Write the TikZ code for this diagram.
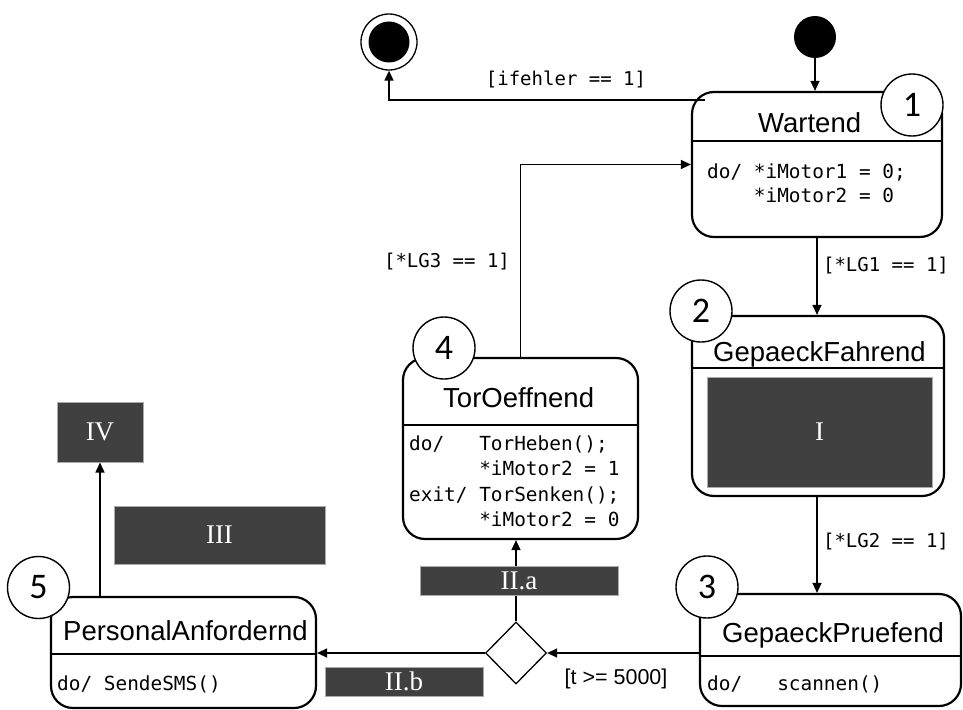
\documentclass[tikz,border=0pt]{standalone}
\usepackage{fontspec}
\setmainfont{Liberation Sans}
\newfontfamily\monof{DejaVu Sans Mono}
\newfontfamily\numf{Carlito}
\newfontfamily\serf{Liberation Serif}
\usetikzlibrary{arrows.meta,shapes.geometric}
\definecolor{boxgray}{RGB}{64,64,64}
\definecolor{edgegray}{RGB}{170,170,170}
\tikzset{
  statebox/.style={draw, line width=2.2pt, rounded corners=22pt, inner sep=0pt},
  sepline/.style={line width=1.8pt},
  titletext/.style={font=\fontsize{27.5}{30}\selectfont, inner sep=0pt},
  bodytext/.style={font=\monof\fontsize{19.4}{25}\selectfont, inner sep=0pt},
  guard/.style={font=\monof\fontsize{19}{22}\selectfont, inner sep=0pt},
  numcircle/.style={circle, draw, line width=1.4pt, fill=white, minimum size=62pt, inner sep=0pt, font=\numf\fontsize{36}{36}\selectfont},
  darkbox/.style={fill=boxgray, draw=edgegray, line width=1pt, text=white, inner sep=0pt, font=\serf\fontsize{27}{30}\selectfont},
  conn/.style={line width=1.4pt, -{Triangle[length=10pt,width=9pt]}},
}
\begin{document}
\begin{tikzpicture}[x=1pt,y=-1pt]
\useasboundingbox (0,0) rectangle (963,709);

% initial and final states
\node[circle, fill=black, minimum size=42pt, inner sep=0pt] (init) at (815,37) {};
\node[circle, draw, line width=1.3pt, minimum size=56pt, inner sep=0pt] (fin) at (389,42) {};
\node[circle, fill=black, minimum size=41pt, inner sep=0pt] (fincore) at (fin) {};

% state boxes
\node[statebox, minimum width=250pt, minimum height=145pt] (w) at (817,164.5) {};
\node[statebox, minimum width=252pt, minimum height=180pt] (gf) at (818,406) {};
\node[statebox, minimum width=235pt, minimum height=181pt] (t) at (520.5,448.5) {};
\node[statebox, minimum width=261pt, minimum height=112pt] (gp) at (830.5,650) {};
\node[statebox, minimum width=265pt, minimum height=111pt] (p) at (183.5,652.5) {};

% separators
\draw[sepline] (w.west |- 0,141) -- (w.east |- 0,141);
\draw[sepline] (gf.west |- 0,368) -- (gf.east |- 0,368);
\draw[sepline] (t.west |- 0,425) -- (t.east |- 0,425);
\draw[sepline] (gp.west |- 0,656) -- (gp.east |- 0,656);
\draw[sepline] (p.west |- 0,654) -- (p.east |- 0,654);

% titles
\node[titletext, anchor=base west] (wt) at (758,132) {Wartend};
\node[titletext, anchor=base west] (gft) at (713,361) {GepaeckFahrend};
\node[titletext, anchor=base west] (tt) at (443,407) {TorOeffnend};
\node[titletext, anchor=base west] (gpt) at (722,642) {GepaeckPruefend};
\node[titletext, anchor=base west] (pt) at (63,640) {PersonalAnfordernd};

% bodies
\node[bodytext, anchor=base west] (wb1) at (707,178) {do/ *iMotor1 = 0;};
\node[bodytext, anchor=base west] (wb2) at (707,202) {\phantom{xxxx}*iMotor2 = 0};
\node[bodytext, anchor=base west] (tb1) at (409,450) {do/\phantom{xxx}TorHeben();};
\node[bodytext, anchor=base west] (tb2) at (409,475.5) {\phantom{xxxxxx}*iMotor2 = 1};
\node[bodytext, anchor=base west] (tb3) at (409,501) {exit/ TorSenken();};
\node[bodytext, anchor=base west] (tb4) at (409,526.5) {\phantom{xxxxxx}*iMotor2 = 0};
\node[bodytext, anchor=base west] (gpb) at (707,690) {do/\phantom{xxx}scannen()};
\node[bodytext, anchor=base west] (pb) at (57,690) {do/ SendeSMS()};

% decision
\node[diamond, draw, line width=1.3pt, minimum width=61pt, minimum height=62pt, inner sep=0pt, fill=white] (d) at (516,653) {};

% dark boxes
\node[darkbox, minimum width=225pt, minimum height=110pt] (b1) at (819.5,432) {I};
\node[darkbox, minimum width=86pt, minimum height=60pt] (b4) at (100,432) {IV};
\node[darkbox, minimum width=211pt, minimum height=58pt] (b3) at (219.5,535) {III};
\node[darkbox, minimum width=158pt, minimum height=29pt] (b2b) at (404,681.5) {II.b};

% connectors
\coordinate (wexit) at (705,100);
\draw[conn] (init.south) -- (init.south |- w.north);
\draw[conn] (wexit) -| (fin.south);
\draw[conn] (t.north) |- (w.west);
\draw[conn] (w.south -| 817,0) -- (gf.north -| 817,0);
\draw[conn] (gf.south -| 817,0) -- (gp.north -| 817,0);
\draw[conn] (gp.west |- d.east) -- (d.east);
\draw[conn] (d.west) -- (p.east |- d.west);
\draw[conn] (d.north) -- (d.north |- t.south);
\draw[conn] (b4.south |- p.north) -- (b4.south);

\node[darkbox, minimum width=198pt, minimum height=29pt] (b2a) at (519,580.5) {II.a};

% number circles
\node[numcircle] (n1) at (912,105) {1};
\node[numcircle] (n2) at (701,311) {2};
\node[numcircle] (n3) at (707,587) {3};
\node[numcircle] (n4) at (444,348) {4};
\node[numcircle] (n5) at (38.5,587.5) {5};

% guards
\node[guard] (g0) at (566,79) {[ifehler == 1]};
\node[guard] (g3) at (447,262) {[*LG3 == 1]};
\node[guard] (g1) at (886,266) {[*LG1 == 1]};
\node[guard] (g2) at (886,542) {[*LG2 == 1]};
\node[font=\fontsize{21.5}{24}\selectfont, inner sep=0pt] (g5) at (616,679) {[t >= 5000]};
\end{tikzpicture}
\end{document}
